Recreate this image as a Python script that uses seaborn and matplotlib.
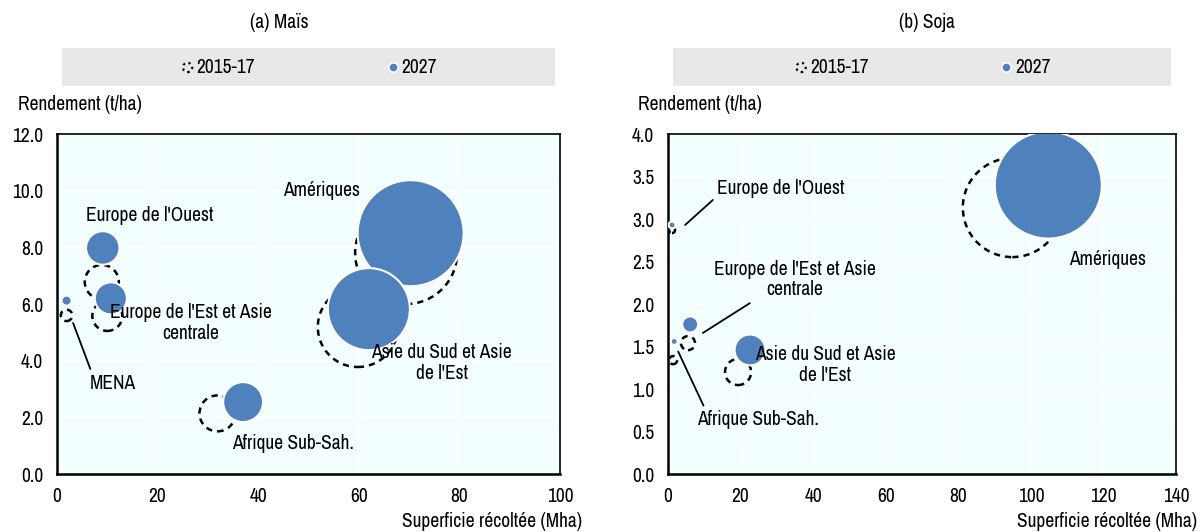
import seaborn as sns
import matplotlib.pyplot as plt
import matplotlib.patches as mpatches
import pandas as pd

# ---------------------------------------------------------------------------
# data
# area = superficie récoltée (Mha), yld = rendement (t/ha), prod = bubble size (Mt)
MAIZE_REGIONS = ["Amériques", "Asie du Sud et Asie de l'Est", "Afrique Sub-Sah.",
                 "Europe de l'Ouest", "Europe de l'Est et Asie centrale", "MENA"]
MAIZE_AREA_2015 = [69.4, 59.8, 31.9, 8.9, 10.0, 1.9]
MAIZE_YLD_2015 = [7.80, 5.19, 2.14, 6.78, 5.58, 5.60]
MAIZE_PROD_2015 = [555, 342, 69, 62, 48, 7]
MAIZE_AREA_2027 = [70.3, 62.0, 37.0, 9.1, 10.7, 1.9]
MAIZE_YLD_2027 = [8.50, 5.82, 2.54, 7.98, 6.20, 6.12]
MAIZE_PROD_2027 = [600, 359, 85, 60, 55, 5.5]

SOY_REGIONS = ["Amériques", "Asie du Sud et Asie de l'Est", "Afrique Sub-Sah.",
               "Europe de l'Ouest", "Europe de l'Est et Asie centrale"]
SOY_AREA_2015 = [94.9, 19.3, 1.4, 1.1, 5.5]
SOY_YLD_2015 = [3.135, 1.20, 1.34, 2.87, 1.54]
SOY_PROD_2015 = [288, 20, 1.9, 1.06, 5.8]
SOY_AREA_2027 = [104.8, 22.6, 1.7, 1.1, 6.1]
SOY_YLD_2027 = [3.40, 1.46, 1.56, 2.93, 1.76]
SOY_PROD_2027 = [336, 28, 1.4, 1.4, 7.5]

PERIODS = ["2015-17", "2027"]
BLUE = "#4F81BD"
BG = "#F3FEFF"
FS = 14


def make_df(regions, a15, y15, p15, a27, y27, p27):
    d1 = pd.DataFrame({"region": regions, "area": a15, "yld": y15, "prod": p15, "period": PERIODS[0]})
    d2 = pd.DataFrame({"region": regions, "area": a27, "yld": y27, "prod": p27, "period": PERIODS[1]})
    return pd.concat([d1, d2], ignore_index=True)


maize = make_df(MAIZE_REGIONS, MAIZE_AREA_2015, MAIZE_YLD_2015, MAIZE_PROD_2015,
                MAIZE_AREA_2027, MAIZE_YLD_2027, MAIZE_PROD_2027)
soy = make_df(SOY_REGIONS, SOY_AREA_2015, SOY_YLD_2015, SOY_PROD_2015,
              SOY_AREA_2027, SOY_YLD_2027, SOY_PROD_2027)

sns.set_style("white")
plt.rcParams['font.family'] = ['Archivo Narrow', 'DejaVu Sans']
plt.rcParams['font.size'] = FS
plt.rcParams['text.color'] = "black"
plt.rcParams['xtick.color'] = "black"
plt.rcParams['ytick.color'] = "black"

fig = plt.figure(figsize=(12, 5.32), dpi=100)
ax1 = fig.add_axes([0.0475, 0.109, 0.4192, 0.639])
ax2 = fig.add_axes([0.5567, 0.109, 0.4233, 0.639])


def bubbles(ax, df, pmax, smax):
    old = df[df.period == PERIODS[0]]
    new = df[df.period == PERIODS[1]]
    sns.scatterplot(data=old, x="area", y="yld", size="prod", sizes=(0, smax),
                    size_norm=(0, pmax), facecolors="none", edgecolor="black",
                    linewidth=1.8, linestyle=(0, (2.5, 2)), legend=False, ax=ax, zorder=3)
    sns.scatterplot(data=new, x="area", y="yld", size="prod", sizes=(0, smax),
                    size_norm=(0, pmax), color=BLUE, edgecolor="white",
                    linewidth=1.5, legend=False, ax=ax, zorder=4)


def style(ax, xmax, xstep, ymax, ystep, fmt):
    ax.set_facecolor(BG)
    ax.set_xlim(0, xmax)
    ax.set_ylim(0, ymax)
    ax.set_xticks(range(0, xmax + 1, xstep))
    yt = [i * ystep for i in range(int(round(ymax / ystep)) + 1)]
    ax.set_yticks(yt)
    ax.set_yticklabels([fmt.format(v) for v in yt])
    ax.grid(True, color="white", lw=1.2)
    ax.set_axisbelow(True)
    ax.tick_params(direction="in", length=5, width=1, labelsize=FS, colors="black")
    ax.tick_params(axis="x", pad=9)
    ax.tick_params(axis="y", pad=10)
    for s in ["top", "right"]:
        ax.spines[s].set_linewidth(1.2)
        ax.spines[s].set_color("black")
    for s in ["left", "bottom"]:
        ax.spines[s].set_linewidth(1.8)
        ax.spines[s].set_color("black")
    ax.set_xlabel("")
    ax.set_ylabel("")
    # grey legend band
    ax.add_patch(mpatches.Rectangle((0.01, 1.141), 0.98, 0.112, transform=ax.transAxes,
                                    clip_on=False, facecolor="#E8E8E8", edgecolor="none"))
    h1 = ax.scatter([], [], s=45, facecolors="none", edgecolors="black",
                    linewidths=1.6, linestyle=(0, (1, 1.6)), label=PERIODS[0])
    h2 = ax.scatter([], [], s=45, color=BLUE, edgecolors="white",
                    linewidths=1.2, label=PERIODS[1])
    ax.legend(handles=[h1, h2], loc="center", bbox_to_anchor=(0.5, 1.197), ncol=2,
              frameon=False, fontsize=FS, handletextpad=0.05, handlelength=0.8,
              columnspacing=6.7, borderaxespad=0, borderpad=0)


bubbles(ax1, maize, 600, 5825)
bubbles(ax2, soy, 336, 5935)
style(ax1, 100, 20, 12, 2, "{:.1f}")
style(ax2, 140, 20, 4, 0.5, "{:.1f}")

# labels panel (a)
line = dict(arrowstyle="-", color="black", lw=1.3, shrinkA=1, shrinkB=0)
ax1.text(18.5, 9.14, "Europe de l'Ouest", ha="center", va="center", fontsize=FS, zorder=6)
ax1.text(26.6, 5.33, "Europe de l'Est et Asie\ncentrale", ha="center", va="center",
         fontsize=FS, zorder=6, linespacing=1.1)
ax1.annotate("MENA", xy=(3.2, 5.33), xytext=(11.1, 3.21), ha="center", va="center",
             fontsize=FS, arrowprops=dict(line, relpos=(0.05, 1.0)), zorder=6)
ax1.text(46.9, 1.09, "Afrique Sub-Sah.", ha="center", va="center", fontsize=FS, zorder=6)
ax1.text(76.5, 3.92, "Asie du Sud et Asie\nde l'Est", ha="center", va="center",
         fontsize=FS, zorder=6, linespacing=1.1)
ax1.text(52.5, 10.0, "Amériques", ha="center", va="center", fontsize=FS, zorder=6)

# labels panel (b)
ax2.annotate("Europe de l'Ouest", xy=(4.7, 2.93), xytext=(31.1, 3.36), ha="center", va="center",
             fontsize=FS, arrowprops=dict(line, relpos=(0.0, 0.1)), zorder=6)
ax2.annotate("Europe de l'Est et Asie\ncentrale", xy=(9.6, 1.66), xytext=(35.0, 2.29),
             ha="center", va="center", fontsize=FS, linespacing=1.1,
             arrowprops=dict(line, relpos=(0.26, 0.0)), zorder=6)
ax2.annotate("Afrique Sub-Sah.", xy=(2.8, 1.44), xytext=(24.8, 0.64), ha="center", va="center",
             fontsize=FS, arrowprops=dict(line, relpos=(0.07, 1.0)), zorder=6)
ax2.text(43.3, 1.28, "Asie du Sud et Asie\nde l'Est", ha="center", va="center",
         fontsize=FS, zorder=6, linespacing=1.1)
ax2.text(121.2, 2.52, "Amériques", ha="center", va="center", fontsize=FS, zorder=6)

# titles and axis captions
fig.text(0.2325, 0.9586, "(a) Maïs", ha="center", va="center", fontsize=FS)
fig.text(0.7725, 0.9586, "(b) Soja", ha="center", va="center", fontsize=FS)
fig.text(0.015, 0.8045, "Rendement (t/ha)", ha="left", va="center", fontsize=FS)
fig.text(0.532, 0.8045, "Rendement (t/ha)", ha="left", va="center", fontsize=FS)
fig.text(0.485, 0.019, "Superficie récoltée (Mha)", ha="right", va="center", fontsize=FS)
fig.text(0.9975, 0.019, "Superficie récoltée (Mha)", ha="right", va="center", fontsize=FS)

fig.savefig("out.png", dpi=100)
